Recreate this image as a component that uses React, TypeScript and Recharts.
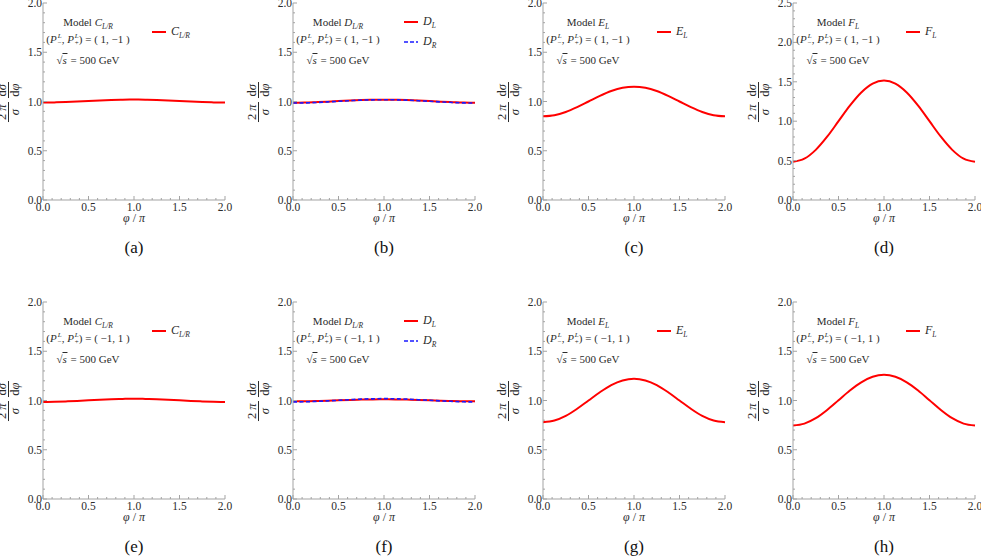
import React from 'react'
import { LineChart, Line, XAxis, YAxis } from 'recharts'

// phi / pi sample points
const phi = [0, 0.125, 0.25, 0.375, 0.5, 0.625, 0.75, 0.875, 1, 1.125, 1.25, 1.375, 1.5, 1.625, 1.75, 1.875, 2]

// top row: (P-, P+) = (1, -1)
const cTop = [0.99, 0.991, 0.994, 0.999, 1.005, 1.011, 1.016, 1.019, 1.02, 1.019, 1.016, 1.011, 1.005, 0.999, 0.994, 0.991, 0.99]
const dLTop = [0.988, 0.989, 0.993, 0.998, 1.004, 1.01, 1.015, 1.018, 1.019, 1.018, 1.015, 1.01, 1.004, 0.998, 0.993, 0.989, 0.988]
const dRTop = [0.985, 0.986, 0.99, 0.996, 1.002, 1.008, 1.014, 1.017, 1.018, 1.017, 1.014, 1.008, 1.002, 0.996, 0.99, 0.986, 0.985]
const eTop = [0.85, 0.861, 0.894, 0.943, 1.0, 1.057, 1.106, 1.139, 1.15, 1.139, 1.106, 1.057, 1.0, 0.943, 0.894, 0.861, 0.85]
const fTop = [0.485, 0.524, 0.636, 0.803, 1.0, 1.197, 1.364, 1.476, 1.515, 1.476, 1.364, 1.197, 1.0, 0.803, 0.636, 0.524, 0.485]

// bottom row: (P-, P+) = (-1, 1)
const cBot = [0.985, 0.987, 0.991, 0.996, 1.002, 1.008, 1.013, 1.016, 1.018, 1.016, 1.013, 1.008, 1.002, 0.996, 0.991, 0.987, 0.985]
const dLBot = [0.992, 0.993, 0.995, 0.998, 1.002, 1.006, 1.009, 1.011, 1.012, 1.011, 1.009, 1.006, 1.002, 0.998, 0.995, 0.993, 0.992]
const dRBot = [0.985, 0.987, 0.991, 0.996, 1.002, 1.008, 1.014, 1.017, 1.019, 1.017, 1.014, 1.008, 1.002, 0.996, 0.991, 0.987, 0.985]
const eBot = [0.78, 0.797, 0.844, 0.916, 1.0, 1.084, 1.156, 1.203, 1.22, 1.203, 1.156, 1.084, 1.0, 0.916, 0.844, 0.797, 0.78]
const fBot = [0.745, 0.765, 0.82, 0.904, 1.003, 1.102, 1.185, 1.241, 1.261, 1.241, 1.185, 1.102, 1.003, 0.904, 0.82, 0.765, 0.745]

const rows = phi.map((p, i) => ({
  phi: p,
  cTop: cTop[i], dLTop: dLTop[i], dRTop: dRTop[i], eTop: eTop[i], fTop: fTop[i],
  cBot: cBot[i], dLBot: dLBot[i], dRBot: dRBot[i], eBot: eBot[i], fBot: fBot[i],
}))

const RED = '#ff0000'
const BLUE = '#1a1aff'
const FRAME = '#a3a3a3'
const TXT = '#2b2b2b'
const SERIF = '"Liberation Serif", "Times New Roman", "DejaVu Serif", serif'

const PW = 182
const PH = 197
const AX_L = 35
const AX_B = 22
const M_TOP = 5
const M_RIGHT = 8

// major ticks every 0.5, minor every 0.1
const minorTicks = (max: number) => Array.from({ length: Math.round(max * 10) + 1 }, (_, i) => i / 10)
const isMajor = (v: number) => Math.abs(v * 2 - Math.round(v * 2)) < 1e-6

type Series = { key: string; label: [string, string]; color: string; dashed?: boolean }
type Panel = {
  tag: string; left: number; top: number; yMax: number
  model: [string, string]; pol: string; lines: Series[]; legendX: number
}

const topRow = 3
const botRow = 302

const panels: Panel[] = [
  { tag: 'a', left: 43, top: topRow, yMax: 2, model: ['C', 'L/R'], pol: '1, \u22121', legendX: 109,
    lines: [{ key: 'cTop', label: ['C', 'L/R'], color: RED }] },
  { tag: 'b', left: 293, top: topRow, yMax: 2, model: ['D', 'L/R'], pol: '1, \u22121', legendX: 111,
    lines: [{ key: 'dLTop', label: ['D', 'L'], color: RED }, { key: 'dRTop', label: ['D', 'R'], color: BLUE, dashed: true }] },
  { tag: 'c', left: 543, top: topRow, yMax: 2, model: ['E', 'L'], pol: '1, \u22121', legendX: 114,
    lines: [{ key: 'eTop', label: ['E', 'L'], color: RED }] },
  { tag: 'd', left: 793, top: topRow, yMax: 2.5, model: ['F', 'L'], pol: '1, \u22121', legendX: 113,
    lines: [{ key: 'fTop', label: ['F', 'L'], color: RED }] },
  { tag: 'e', left: 43, top: botRow, yMax: 2, model: ['C', 'L/R'], pol: '\u22121, 1', legendX: 109,
    lines: [{ key: 'cBot', label: ['C', 'L/R'], color: RED }] },
  { tag: 'f', left: 293, top: botRow, yMax: 2, model: ['D', 'L/R'], pol: '\u22121, 1', legendX: 111,
    lines: [{ key: 'dLBot', label: ['D', 'L'], color: RED }, { key: 'dRBot', label: ['D', 'R'], color: BLUE, dashed: true }] },
  { tag: 'g', left: 543, top: botRow, yMax: 2, model: ['E', 'L'], pol: '\u22121, 1', legendX: 114,
    lines: [{ key: 'eBot', label: ['E', 'L'], color: RED }] },
  { tag: 'h', left: 793, top: botRow, yMax: 2, model: ['F', 'L'], pol: '\u22121, 1', legendX: 113,
    lines: [{ key: 'fBot', label: ['F', 'L'], color: RED }] },
]

const tickText = { fontFamily: SERIF, fontSize: 11.5, fill: TXT }

function BottomTick(props: any) {
  const { x, y, payload } = props
  const major = isMajor(payload.value)
  return (
    <g>
      <line x1={x} x2={x} y1={y} y2={y - (major ? 4 : 2)} stroke={FRAME} />
      {major && <text x={x} y={y + 11} textAnchor="middle" {...tickText}>{payload.value.toFixed(1)}</text>}
    </g>
  )
}
function TopTick(props: any) {
  const { x, y, payload } = props
  const major = isMajor(payload.value)
  return <line x1={x} x2={x} y1={y} y2={y + (major ? 4 : 2)} stroke={FRAME} />
}
function LeftTick(props: any) {
  const { x, y, payload } = props
  const major = isMajor(payload.value)
  return (
    <g>
      <line x1={x} x2={x + (major ? 4 : 2)} y1={y} y2={y} stroke={FRAME} />
      {major && <text x={x - 1} y={y + 4} textAnchor="end" {...tickText}>{payload.value.toFixed(1)}</text>}
    </g>
  )
}
function RightTick(props: any) {
  const { x, y, payload } = props
  const major = isMajor(payload.value)
  return <line x1={x} x2={x - (major ? 4 : 2)} y1={y} y2={y} stroke={FRAME} />
}

const Sub = ({ children }: { children: React.ReactNode }) => (
  <span style={{ fontSize: 7.5, fontStyle: 'italic', position: 'relative', top: 3 }}>{children}</span>
)

const Sym = ({ s }: { s: [string, string] }) => (
  <span><i>{s[0]}</i><Sub>{s[1]}</Sub></span>
)

const PolSym = ({ sign }: { sign: string }) => (
  <span>
    <i>P</i>
    <span style={{ display: 'inline-flex', flexDirection: 'column', verticalAlign: 'middle', fontSize: 7, lineHeight: '7px', marginLeft: 1 }}>
      <i>L</i>
      <span>{sign}</span>
    </span>
  </span>
)

function Frac({ num, den }: { num: React.ReactNode; den: React.ReactNode }) {
  return (
    <span style={{ display: 'inline-flex', flexDirection: 'column', alignItems: 'center', verticalAlign: 'middle', margin: '0 2px' }}>
      <span style={{ borderBottom: `1px solid ${TXT}`, padding: '0 2px', lineHeight: '11px' }}>{num}</span>
      <span style={{ lineHeight: '11px', paddingTop: 1 }}>{den}</span>
    </span>
  )
}

function PanelView({ p }: { p: Panel }) {
  const yTicks = minorTicks(p.yMax)
  const xTicks = minorTicks(2)
  const text: React.CSSProperties = { position: 'absolute', fontFamily: SERIF, fontSize: 11, color: TXT, whiteSpace: 'nowrap' }
  const cx = p.left + PW / 2
  return (
    <>
      <div style={{ position: 'absolute', left: p.left - AX_L, top: p.top - M_TOP }}>
        <LineChart
          width={AX_L + PW + M_RIGHT}
          height={M_TOP + PH + AX_B}
          data={rows}
          margin={{ top: M_TOP, right: M_RIGHT, left: 0, bottom: 0 }}
        >
          <XAxis xAxisId="b" dataKey="phi" type="number" domain={[0, 2]} ticks={xTicks} interval={0}
            height={AX_B} tickSize={0} tickMargin={0} tickLine={false} axisLine={{ stroke: FRAME }}
            tick={(t: any) => <BottomTick {...t} />} />
          <XAxis xAxisId="t" orientation="top" dataKey="phi" type="number" domain={[0, 2]} ticks={xTicks} interval={0}
            height={0} tickSize={0} tickMargin={0} tickLine={false} axisLine={{ stroke: FRAME }}
            tick={(t: any) => <TopTick {...t} />} />
          <YAxis yAxisId="l" type="number" domain={[0, p.yMax]} ticks={yTicks} interval={0}
            width={AX_L} tickSize={0} tickMargin={0} tickLine={false} axisLine={{ stroke: FRAME }}
            tick={(t: any) => <LeftTick {...t} />} />
          <YAxis yAxisId="r" orientation="right" type="number" domain={[0, p.yMax]} ticks={yTicks} interval={0}
            width={0} tickSize={0} tickMargin={0} tickLine={false} axisLine={{ stroke: FRAME }}
            tick={(t: any) => <RightTick {...t} />} />
          {p.lines.map((s) => (
            <Line key={s.key} xAxisId="b" yAxisId="l" type="monotone" dataKey={s.key}
              stroke={s.color} strokeWidth={s.dashed ? 1.6 : 2}
              strokeDasharray={s.dashed ? '4 2.5' : undefined}
              dot={false} activeDot={false} isAnimationActive={false} />
          ))}
        </LineChart>
      </div>

      {/* annotation block */}
      <div style={{ ...text, left: p.left + 45, top: p.top + 19, transform: 'translate(-50%, -50%)' }}>
        Model <Sym s={p.model} />
      </div>
      <div style={{ ...text, left: p.left + 45, top: p.top + 37, transform: 'translate(-50%, -50%)' }}>
        (<PolSym sign={'\u2212'} />, <PolSym sign="+" />) = ( {p.pol} )
      </div>
      <div style={{ ...text, left: p.left + 45, top: p.top + 57, transform: 'translate(-50%, -50%)' }}>
        {'\u221A'}<span style={{ borderTop: `1px solid ${TXT}`, fontStyle: 'italic', paddingRight: 1 }}>s</span> = 500 GeV
      </div>

      {/* legend */}
      {p.lines.map((s, i) => {
        const ly = p.top + (p.lines.length > 1 ? 19 + i * 20 : 29)
        return (
          <React.Fragment key={s.key}>
            <svg style={{ position: 'absolute', left: p.left + p.legendX, top: ly - 2 }} width={14} height={4}>
              <line x1={0} x2={14} y1={2} y2={2} stroke={s.color} strokeWidth={s.dashed ? 1.6 : 2}
                strokeDasharray={s.dashed ? '4 2' : undefined} />
            </svg>
            <div style={{ ...text, fontSize: 12, left: p.legendX + p.left + 19, top: ly - 8 }}>
              <Sym s={s.label} />
            </div>
          </React.Fragment>
        )
      })}

      {/* y axis label */}
      <div style={{ ...text, fontSize: 12.5, left: p.left - 34, top: p.top + PH / 2, transform: 'translate(-50%, -50%) rotate(-90deg)' }}>
        <Frac num={<>2 <i>π</i></>} den={<i>σ</i>} />
        <Frac num={<>d<i>σ</i></>} den={<>d<i>φ</i></>} />
      </div>

      {/* x axis label */}
      <div style={{ ...text, fontSize: 12, left: cx, top: p.top + PH + 18, transform: 'translate(-50%, -50%)' }}>
        <i>φ</i> / <i>π</i>
      </div>

      {/* caption */}
      <div style={{ ...text, fontSize: 17, color: '#111', left: cx, top: p.top + PH + 48, transform: 'translate(-50%, -50%)' }}>
        ({p.tag})
      </div>
    </>
  )
}

export default function App() {
  return (
    <div style={{ position: 'absolute', left: 0, top: 0, width: 981, height: 559, background: '#fff', overflow: 'hidden' }}>
      {panels.map((p) => <PanelView key={p.tag} p={p} />)}
    </div>
  )
}
